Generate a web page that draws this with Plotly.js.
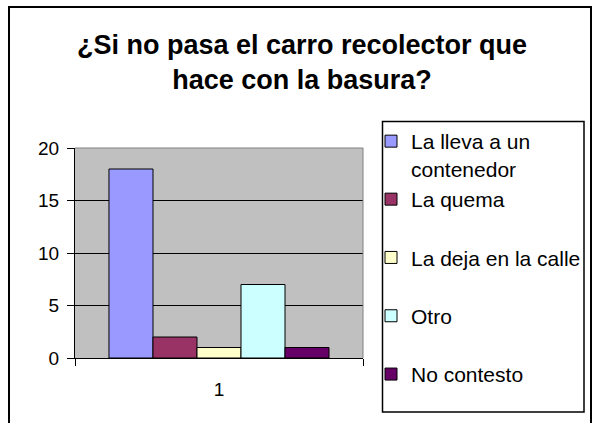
<!DOCTYPE html>
<html>
<head>
<meta charset="utf-8">
<script src="https://cdn.plot.ly/plotly-3.0.1.min.js"></script>
<style>
  html, body { margin: 0; padding: 0; background: #fff; overflow: hidden; }
  #chart { width: 599px; height: 423px; }
</style>
</head>
<body>
<div id="chart"></div>
<script>
// ---- data ----
const categories = ['1'];
const seriesNames = ['La lleva a un<br>contenedor', 'La quema', 'La deja en la calle', 'Otro', 'No contesto'];
const seriesValues = [18, 2, 1, 7, 1];
const yTickValues = [0, 5, 10, 15, 20];
const titleText = '¿Si no pasa el carro recolector que<br>hace con la basura?';

// ---- styles ----
const seriesColors = ['#9999ff', '#993366', '#ffffcc', '#ccffff', '#660066'];
const FONT = 'Liberation Sans, Arial, sans-serif';

// plot area in pixels
const W = 599, H = 423;
const PL = 75, PR = 363, PT = 148, PB = 358;
const px2x = p => (p - PL) / (PR - PL);
const py2y = p => (PB - p) / (PB - PT);

const traces = seriesNames.map((name, i) => ({
  type: 'bar',
  x: categories,
  y: [seriesValues[i]],
  name: name,
  legend: i === 0 ? 'legend' : 'legend2',
  legendgroup: 'g' + i,
  marker: { color: seriesColors[i], line: { color: '#000', width: 1 } },
  hoverinfo: 'none'
}));

const layout = {
  width: W, height: H,
  margin: { l: PL, r: W - PR, t: PT, b: H - PB, pad: 0 },
  paper_bgcolor: '#ffffff',
  plot_bgcolor: '#c0c0c0',
  font: { family: FONT, color: '#000', size: 18 },
  barmode: 'group',
  bargap: 0.236,
  bargroupgap: 0,
  showlegend: true,
  title: {
    text: titleText,
    font: { family: FONT, size: 27, color: '#000', weight: 'bold' },
    x: 302 / W, xref: 'container', xanchor: 'center',
    y: 1 - 54 / H, yref: 'container', yanchor: 'top'
  },
  xaxis: {
    type: 'category',
    showline: true, linecolor: '#000', linewidth: 1,
    ticks: 'outside', ticklen: 7, tickcolor: '#000', tickwidth: 1,
    tickson: 'boundaries',
    ticklabelstandoff: 14,
    showgrid: false, zeroline: false,
    tickfont: { family: FONT, size: 19, color: '#000' },
    fixedrange: true
  },
  yaxis: {
    range: [0, 20],
    tickvals: yTickValues,
    ticktext: yTickValues.map(String),
    showline: true, linecolor: '#000', linewidth: 1,
    ticks: 'outside', ticklen: 7, tickcolor: '#000', tickwidth: 1,
    ticklabelstandoff: 4,
    showgrid: true, gridcolor: '#000', gridwidth: 1,
    zeroline: false,
    tickfont: { family: FONT, size: 19, color: '#000' },
    fixedrange: true
  },
  legend: {
    x: px2x(371), xanchor: 'left', xref: 'paper',
    y: py2y(121), yanchor: 'top', yref: 'paper',
    bgcolor: 'rgba(0,0,0,0)', borderwidth: 0,
    font: { family: FONT, size: 21, color: '#000' },
    valign: 'top'
  },
  legend2: {
    x: px2x(371), xanchor: 'left', xref: 'paper',
    y: py2y(179), yanchor: 'top', yref: 'paper',
    bgcolor: 'rgba(0,0,0,0)', borderwidth: 0,
    font: { family: FONT, size: 21, color: '#000' },
    traceorder: 'grouped',
    tracegroupgap: 28,
    valign: 'top'
  },
  shapes: [
    // plot area top and right border (gray)
    { type: 'line', xref: 'paper', yref: 'paper', x0: 0, x1: 1, y0: 1, y1: 1,
      line: { color: '#808080', width: 1 }, layer: 'above' },
    { type: 'line', xref: 'paper', yref: 'paper', x0: 1, x1: 1, y0: 0, y1: 1,
      line: { color: '#808080', width: 1 }, layer: 'above' },
    // legend box
    { type: 'rect', xref: 'paper', yref: 'paper',
      x0: px2x(382.5), x1: px2x(584), y0: py2y(121.5), y1: py2y(412),
      line: { color: '#000', width: 1.5 }, fillcolor: 'rgba(0,0,0,0)', layer: 'above' },
    // outer chart border
    { type: 'rect', xref: 'paper', yref: 'paper',
      x0: px2x(9), x1: px2x(591), y0: py2y(7), y1: py2y(450),
      line: { color: '#000', width: 2 }, fillcolor: 'rgba(0,0,0,0)', layer: 'above' }
  ]
};

Plotly.newPlot('chart', traces, layout, { displayModeBar: false, staticPlot: true });
</script>
</body>
</html>
